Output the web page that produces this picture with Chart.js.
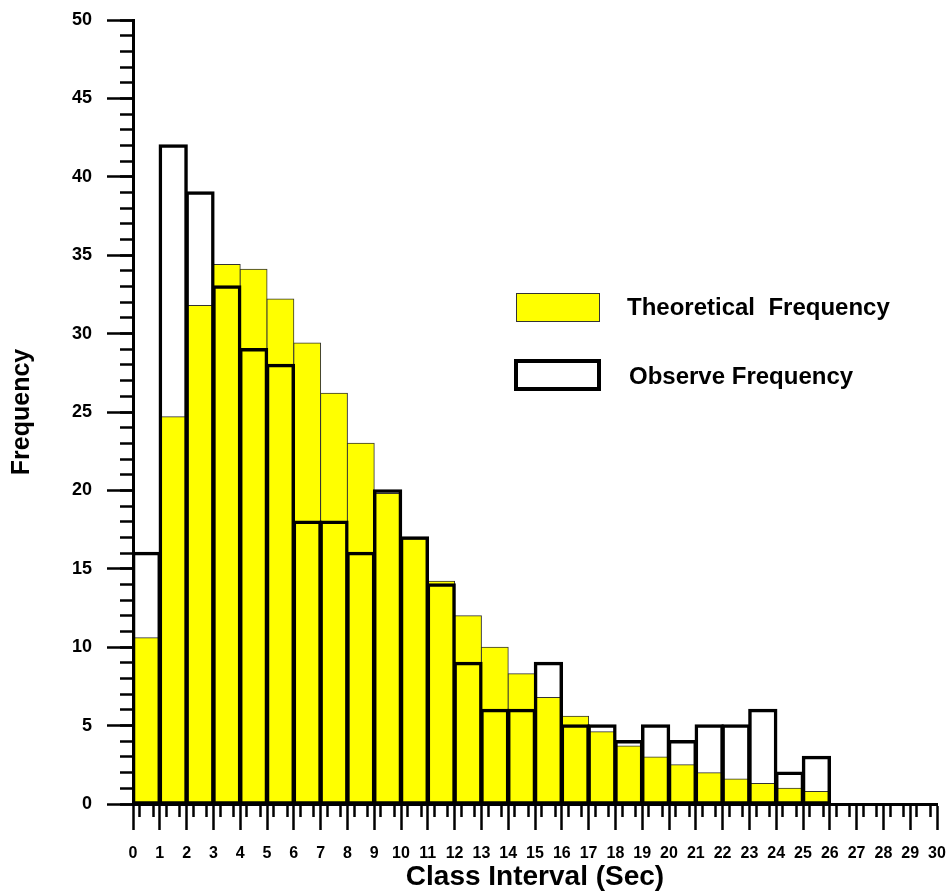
<!DOCTYPE html>
<html>
<head>
<meta charset="utf-8">
<title>Frequency histogram</title>
<script src="https://cdn.jsdelivr.net/npm/chart.js@4.4.0/dist/chart.umd.min.js"></script>
<style>
  html, body { margin: 0; padding: 0; background: #fff; }
  #wrap { position: relative; width: 948px; height: 891px; }
  .legend-box { position: absolute; box-sizing: border-box; }
  .legend-text {
    position: absolute;
    font: bold 24px "Liberation Sans", Arial, sans-serif;
    line-height: 1;
    color: #000;
    white-space: pre;
  }
</style>
</head>
<body>
<div id="wrap">
  <canvas id="chart" width="948" height="891"></canvas>
  <div class="legend-box" style="left:516px;top:293px;width:84px;height:29px;background:#ffff00;border:1px solid #333;"></div>
  <div class="legend-text" style="left:627px;top:295px;">Theoretical  Frequency</div>
  <div class="legend-box" style="left:514px;top:359px;width:87px;height:32px;background:#fff;border:4px solid #000;"></div>
  <div class="legend-text" style="left:629px;top:364px;">Observe Frequency</div>
</div>
<script>
// class intervals (start of each 1-sec bin)
const binStarts = [0, 1, 2, 3, 4, 5, 6, 7, 8, 9, 10, 11, 12, 13, 14, 15, 16, 17, 18, 19, 20, 21, 22, 23, 24, 25];
const theoretical = [10.6, 24.7, 31.8, 34.4, 34.1, 32.2, 29.4, 26.2, 23.0, 19.8, 16.9, 14.2, 12.0, 10.0, 8.3, 6.8, 5.6, 4.6, 3.7, 3.0, 2.5, 2.0, 1.6, 1.3, 1.0, 0.8];
const observed = [16, 42, 39, 33, 29, 28, 18, 18, 16, 20, 17, 14, 9, 6, 6, 9, 5, 5, 4, 5, 4, 5, 5, 6, 2, 3];

const xMin = 0, xMax = 30, xStep = 1;
const yMin = 0, yMax = 50, yStep = 5, yMinorStep = 1;

const fontFamily = '"Liberation Sans", Arial, sans-serif';
Chart.defaults.font.family = fontFamily;
Chart.defaults.color = "#000";

// bars sit in the middle of their class interval
const toPoints = (values) => values.map((v, i) => ({ x: binStarts[i] + 0.5, y: v }));

const ctx = document.getElementById("chart").getContext("2d");
new Chart(ctx, {
    type: "bar",
    data: {
        datasets: [
            {
                label: "Observe Frequency",
                data: toPoints(observed),
                backgroundColor: "rgba(0,0,0,0)",
                borderColor: "#000",
                borderWidth: 1,
                inflateAmount: 1.25,
                borderSkipped: false,
                barPercentage: 1,
                categoryPercentage: 1,
                grouped: false,
                order: 0
            },
            {
                label: "Theoretical  Frequency",
                data: toPoints(theoretical),
                backgroundColor: "#ffff00",
                borderColor: "#333",
                borderWidth: 1,
                inflateAmount: 0.5,
                borderSkipped: "start",
                barPercentage: 1,
                categoryPercentage: 1,
                grouped: false,
                order: 1
            }
        ]
    },
    options: {
        responsive: false,
        animation: false,
        events: [],
        devicePixelRatio: 1,
        layout: { padding: { top: 20, right: 11, bottom: 0, left: 0 } },
        plugins: {
            legend: { display: false },
            tooltip: { enabled: false }
        },
        scales: {
            x: {
                type: "linear",
                position: "bottom",
                min: xMin,
                max: xMax,
                offset: false,
                z: 1,
                grid: { drawOnChartArea: false, offset: false, tickLength: 26, tickWidth: 2.5, tickColor: "#000" },
                border: { display: true, color: "#000", width: 3 },
                ticks: {
                    stepSize: xStep,
                    autoSkip: false,
                    maxRotation: 0,
                    padding: 14,
                    color: "#000",
                    font: { size: 16, weight: "bold" }
                },
                title: {
                    display: true,
                    text: "Class Interval (Sec)",
                    color: "#000",
                    font: { size: 28, weight: "bold", lineHeight: 1 },
                    padding: { top: 0, bottom: 0 }
                },
                afterFit: (scale) => {
                    scale.height = 87;
                    scale.paddingLeft = 0;
                    scale.paddingRight = 0;
                }
            },
            xMinor: {
                type: "linear",
                position: { y: 0 },
                min: xMin,
                max: xMax,
                offset: false,
                grid: { drawOnChartArea: false, tickLength: 13, tickWidth: 2.5, tickColor: "#000" },
                border: { display: false },
                ticks: { display: false, stepSize: xStep / 2, autoSkip: false },
                afterFit: (scale) => { scale.height = 0; }
            },
            y: {
                type: "linear",
                position: "left",
                min: yMin,
                max: yMax,
                z: 1,
                grid: { drawOnChartArea: false, tickLength: 26, tickWidth: 2.5, tickColor: "#000" },
                border: { display: true, color: "#000", width: 3 },
                ticks: {
                    stepSize: yStep,
                    padding: 15,
                    color: "#000",
                    font: { size: 18, weight: "bold" }
                },
                title: {
                    display: true,
                    text: "Frequency",
                    color: "#000",
                    font: { size: 25, weight: "bold", lineHeight: 1 },
                    padding: { top: 9.5, bottom: 0 }
                },
                afterFit: (scale) => {
                    scale.width = 133;
                    scale.paddingTop = 0;
                    scale.paddingBottom = 0;
                }
            },
            yMinor: {
                type: "linear",
                position: { x: 0 },
                min: yMin,
                max: yMax,
                grid: { drawOnChartArea: false, tickLength: 13, tickWidth: 2.5, tickColor: "#000" },
                border: { display: false },
                ticks: { display: false, stepSize: yMinorStep, autoSkip: false },
                afterFit: (scale) => { scale.width = 0; }
            }
        }
    }
});
</script>
</body>
</html>
